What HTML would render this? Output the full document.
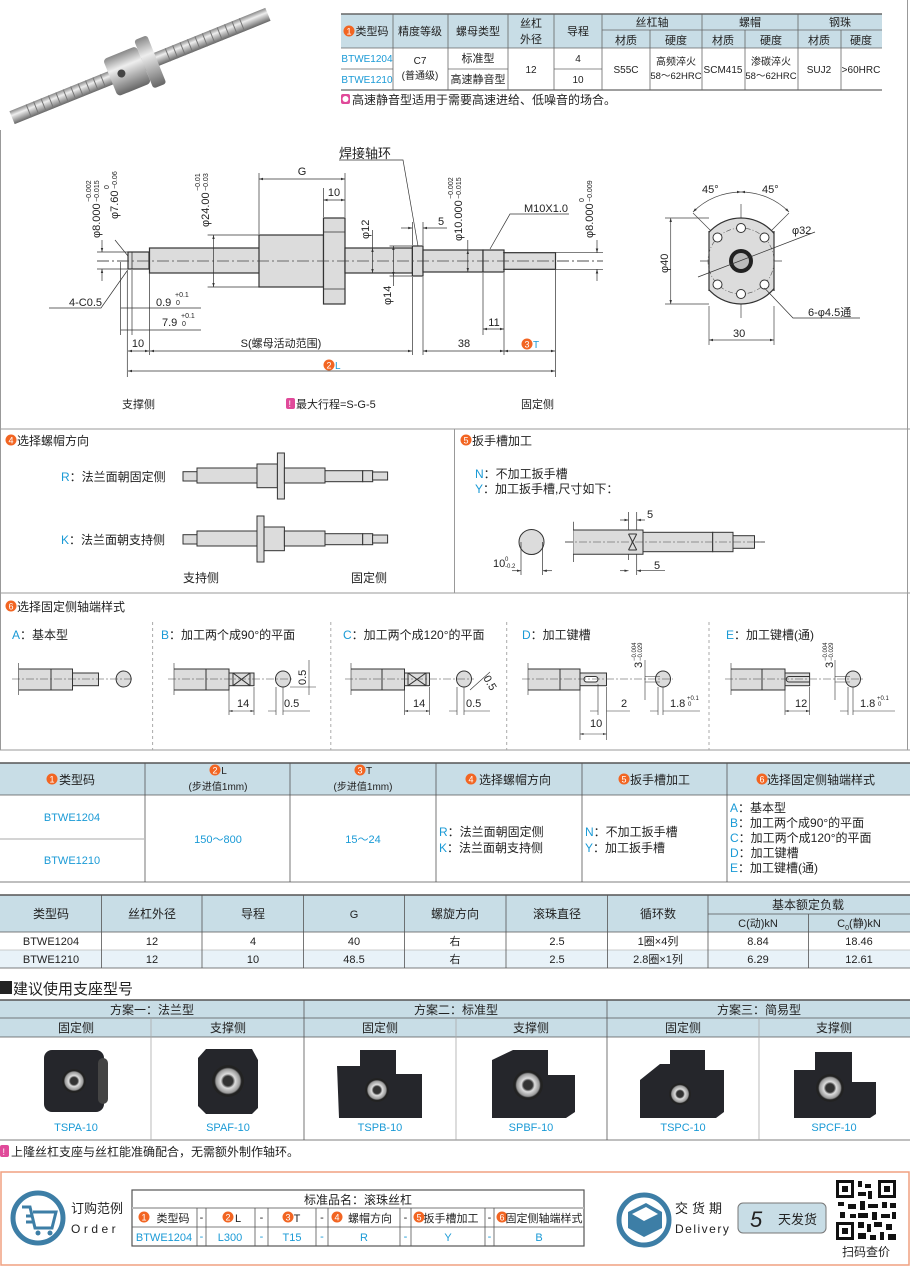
<!DOCTYPE html>
<html><head><meta charset="utf-8"><style>
html,body{margin:0;padding:0;background:#fff}
svg{display:block}
text{font-family:"Liberation Sans","Noto Sans CJK SC",sans-serif;fill:#222}
.b{fill:#1a9ad6}
.w{fill:#fff}
</style></head><body>
<svg width="910" height="1266" viewBox="0 0 910 1266" xmlns="http://www.w3.org/2000/svg">
<defs>
<marker id="a" viewBox="0 0 10 10" refX="10" refY="5" markerWidth="6" markerHeight="6" orient="auto-start-reverse"><path d="M0,2 L10,5 L0,8z" fill="#333"/></marker>
<linearGradient id="sh" x1="0" y1="0" x2="0" y2="1"><stop offset="0" stop-color="#888"/><stop offset=".35" stop-color="#eee"/><stop offset="1" stop-color="#666"/></linearGradient>
<radialGradient id="brg"><stop offset=".3" stop-color="#333"/><stop offset=".45" stop-color="#ddd"/><stop offset=".75" stop-color="#999"/><stop offset=".85" stop-color="#222"/></radialGradient>
</defs>

<!-- frame -->
<line x1="0.5" y1="130" x2="0.5" y2="750" stroke="#999"/>
<line x1="907.5" y1="0" x2="907.5" y2="750" stroke="#999"/>
<line x1="0" y1="429" x2="910" y2="429" stroke="#999"/>
<line x1="454.5" y1="429" x2="454.5" y2="593" stroke="#999"/>
<line x1="0" y1="593" x2="910" y2="593" stroke="#999"/>
<line x1="0" y1="750" x2="910" y2="750" stroke="#999"/>

<!-- photo -->
<g transform="translate(140,66) rotate(-22)">
<rect x="-138" y="-7" width="276" height="14" fill="url(#sh)"/>
<g stroke="#777" stroke-width="1">
<path d="M-120,-7 v14 M-112,-7 v14 M-104,-7 v14 M-96,-7 v14 M-88,-7 v14 M-80,-7 v14 M-72,-7 v14 M-64,-7 v14 M-56,-7 v14 M-48,-7 v14 M-40,-7 v14 M30,-7 v14 M38,-7 v14 M46,-7 v14 M54,-7 v14 M62,-7 v14 M70,-7 v14 M78,-7 v14 M86,-7 v14 M94,-7 v14 M102,-7 v14 M110,-7 v14"/>
</g>
<rect x="-32" y="-20" width="36" height="40" rx="4" fill="url(#sh)"/>
<rect x="4" y="-26" width="14" height="52" rx="3" fill="url(#sh)"/>
<circle cx="-20" cy="0" r="4" fill="#444"/>
</g>

<!-- top table -->
<rect x="341" y="14" width="541" height="34" fill="#c8dde6"/>
<g stroke="#666" stroke-width="0.8" fill="none">
<line x1="341" y1="14" x2="882" y2="14" stroke-width="1.5"/>
<line x1="341" y1="48" x2="882" y2="48"/>
<line x1="341" y1="90" x2="882" y2="90" stroke-width="1.2"/>
<line x1="602" y1="30" x2="882" y2="30"/>
<line x1="341" y1="69" x2="393" y2="69"/>
<line x1="448" y1="69" x2="508" y2="69"/>
<line x1="554" y1="69" x2="602" y2="69"/>
<path d="M393,14V90 M448,14V90 M508,14V90 M554,14V90 M602,14V90 M702,14V90 M798,14V90 M650,30V90 M745,30V90 M841,30V90"/>
</g>
<g font-size="11" text-anchor="middle">
<circle cx="349" cy="31" r="5.5" fill="#f26522"/><text x="349" y="34.5" font-size="9" class="w">1</text>
<text x="372" y="35">类型码</text><text x="420" y="35">精度等级</text><text x="478" y="35">螺母类型</text>
<text x="531" y="27">丝杠</text><text x="531" y="43">外径</text><text x="578" y="35">导程</text>
<text x="652" y="26">丝杠轴</text><text x="750" y="26">螺帽</text><text x="840" y="26">钢珠</text>
<text x="626" y="44">材质</text><text x="676" y="44">硬度</text><text x="723" y="44">材质</text><text x="771" y="44">硬度</text><text x="819" y="44">材质</text><text x="861" y="44">硬度</text>
<text x="367" y="62" font-size="10" class="b">BTWE1204</text><text x="367" y="83" font-size="10" class="b">BTWE1210</text>
<text x="420" y="64" font-size="10">C7</text><text x="420" y="79" font-size="10">(普通级)</text>
<text x="478" y="62">标准型</text><text x="478" y="83">高速静音型</text>
<text x="531" y="73" font-size="10">12</text><text x="578" y="62" font-size="10">4</text><text x="578" y="83" font-size="10">10</text>
<text x="626" y="73" font-size="10">S55C</text><text x="676" y="65" font-size="10">高频淬火</text><text x="676" y="79" font-size="9.5">58～62HRC</text>
<text x="723" y="73" font-size="10">SCM415</text><text x="771" y="65" font-size="10">渗碳淬火</text><text x="771" y="79" font-size="9.5">58～62HRC</text>
<text x="819" y="73" font-size="10">SUJ2</text><text x="861" y="73" font-size="10">&gt;60HRC</text>
</g>
<rect x="341" y="94" width="9" height="10" rx="2" fill="#e04a9a"/><circle cx="345.5" cy="99" r="3" fill="#fff"/>
<text x="352" y="104" font-size="12">高速静音型适用于需要高速进给、低噪音的场合。</text>

<!-- main drawing -->
<line x1="97" y1="261" x2="603" y2="261" stroke="#444" stroke-width="0.7" stroke-dasharray="12,3,2,3"/>
<g stroke="#333" stroke-width="1.2" fill="#dcdcdc">
<rect x="128" y="252" width="21" height="17"/>
<rect x="149.5" y="248" width="110" height="25"/>
<rect x="259" y="235" width="64.5" height="52"/>
<rect x="323.5" y="218" width="21.5" height="86"/>
<rect x="345" y="248" width="67.4" height="25"/>
<rect x="412.4" y="246" width="10.6" height="30"/>
<rect x="423" y="250" width="60" height="22"/>
<rect x="483" y="250" width="21" height="22"/>
<rect x="504" y="252.7" width="51.5" height="16.6"/>
</g>
<g stroke="#333" stroke-width="0.8" fill="none">
<line x1="323.5" y1="232" x2="345" y2="232"/><line x1="323.5" y1="289" x2="345" y2="289"/>
<line x1="132" y1="252" x2="132" y2="269"/>
</g>
<line x1="97" y1="261" x2="603" y2="261" stroke="#444" stroke-width="0.7" stroke-dasharray="12,3,2,3"/>
<g stroke="#333" stroke-width="0.7" fill="none">
<path d="M127.3,270 V377 M555.5,270 V377 M149.5,273 V355 M412.4,277 V355 M423,277 V355 M504,273 V355 M483,273 V335 M120.6,262 V335 M132,270 V335 M149.5,325 V335 M259,234 V173 M345,217 V173 M323.5,217 V188"/>
<path d="M97,252 H128 M97,269 H128 M207.6,235 H259 M207.6,287 H259 M389.5,246 H412 M389.5,276 H412 M503,252.7 H603 M503,269.3 H603 M412.4,245 V222 M423,245 V222"/>
<line x1="128" y1="371" x2="555" y2="371" marker-start="url(#a)" marker-end="url(#a)"/>
<line x1="128" y1="351" x2="149" y2="351" marker-start="url(#a)" marker-end="url(#a)"/>
<line x1="150" y1="351" x2="412" y2="351" marker-start="url(#a)" marker-end="url(#a)"/>
<line x1="423" y1="351" x2="504" y2="351" marker-start="url(#a)" marker-end="url(#a)"/>
<line x1="504" y1="351" x2="555" y2="351" marker-start="url(#a)" marker-end="url(#a)"/>
<line x1="483" y1="329" x2="504" y2="329" marker-start="url(#a)" marker-end="url(#a)"/>
<line x1="120.6" y1="308" x2="201" y2="308"/><line x1="120.6" y1="330" x2="201" y2="330"/>
<line x1="259" y1="179" x2="345" y2="179" marker-start="url(#a)" marker-end="url(#a)"/>
<line x1="323.5" y1="200" x2="345" y2="200" marker-start="url(#a)" marker-end="url(#a)"/>
<line x1="213.5" y1="235" x2="213.5" y2="287" marker-start="url(#a)" marker-end="url(#a)"/>
<line x1="372.5" y1="248" x2="372.5" y2="273" marker-start="url(#a)" marker-end="url(#a)"/>
<line x1="393.4" y1="246" x2="393.4" y2="276" marker-start="url(#a)" marker-end="url(#a)"/>
<line x1="467.8" y1="250" x2="467.8" y2="272" marker-start="url(#a)" marker-end="url(#a)"/>
<line x1="102" y1="240" x2="102" y2="252" marker-end="url(#a)"/><line x1="102" y1="281" x2="102" y2="269" marker-end="url(#a)"/>
<line x1="597" y1="240" x2="597" y2="252.7" marker-end="url(#a)"/><line x1="597" y1="281" x2="597" y2="269.3" marker-end="url(#a)"/>
<line x1="401" y1="228" x2="412.4" y2="228" marker-end="url(#a)"/><line x1="447" y1="228" x2="423" y2="228" marker-end="url(#a)"/>
<path d="M115,240 L128,256 M49,308 H101 L127,271 M339,160 H403 L418,246 M569,214 H510 L490,249 M372.5,230 V248 M393.4,276 V286 M467.8,240 V250"/>
</g>
<g font-size="11">
<text x="302" y="175" text-anchor="middle">G</text>
<text x="334" y="196" text-anchor="middle">10</text>
<text x="441" y="225" text-anchor="middle">5</text>
<text x="339" y="158" font-size="13">焊接轴环</text>
<text x="524" y="212">M10X1.0</text>
<text x="69" y="306">4-C0.5</text>
<text x="156" y="306">0.9</text><text x="175" y="297" font-size="7">+0.1</text><text x="176" y="305" font-size="7">0</text>
<text x="162" y="326">7.9</text><text x="181" y="318" font-size="7">+0.1</text><text x="182" y="326" font-size="7">0</text>
<text x="138" y="347" text-anchor="middle">10</text>
<text x="281" y="347" text-anchor="middle">S(螺母活动范围)</text>
<text x="464" y="347" text-anchor="middle">38</text>
<text x="494" y="326" text-anchor="middle">11</text>
<circle cx="527" cy="344" r="5.5" fill="#f26522"/><text x="527" y="347.5" font-size="9" class="w" text-anchor="middle">3</text><text x="533" y="348" class="b" font-size="10">T</text>
<circle cx="329" cy="365" r="5.5" fill="#f26522"/><text x="329" y="368.5" font-size="9" class="w" text-anchor="middle">2</text><text x="335" y="369" class="b" font-size="10">L</text>
<g transform="translate(100,238) rotate(-90)"><text>φ8.000</text><text x="36" y="-9" font-size="7">−0.002</text><text x="36" y="-1" font-size="7">−0.015</text></g>
<g transform="translate(118,219) rotate(-90)"><text>φ7.60</text><text x="30" y="-9" font-size="7">0</text><text x="30" y="-1" font-size="7">−0.06</text></g>
<g transform="translate(209,227) rotate(-90)"><text>φ24.00</text><text x="36" y="-9" font-size="7">−0.01</text><text x="36" y="-1" font-size="7">−0.03</text></g>
<g transform="translate(369,239) rotate(-90)"><text>φ12</text></g>
<g transform="translate(391,305) rotate(-90)"><text>φ14</text></g>
<g transform="translate(462,241) rotate(-90)"><text>φ10.000</text><text x="42" y="-9" font-size="7">−0.002</text><text x="42" y="-1" font-size="7">−0.015</text></g>
<g transform="translate(593,238) rotate(-90)"><text>φ8.000</text><text x="36" y="-9" font-size="7">0</text><text x="36" y="-1" font-size="7">−0.009</text></g>
<text x="122" y="408">支撑侧</text>
<rect x="286" y="398" width="9" height="11" rx="2" fill="#e04a9a"/><text x="288.5" y="407" font-size="9" class="w">!</text>
<text x="296" y="408">最大行程=S-G-5</text>
<text x="521" y="408">固定侧</text>
</g>

<!-- flange view -->
<g stroke="#444" stroke-width="0.7" fill="none">
<path d="M665,218 H709 M665,304 H709 M709,306 V345 M774,306 V345 M700,261 H782 M741,204 V318"/>
<line x1="670.7" y1="218" x2="670.7" y2="304" marker-start="url(#a)" marker-end="url(#a)"/>
<line x1="709" y1="340" x2="774" y2="340" marker-start="url(#a)" marker-end="url(#a)"/>
<path d="M693,213 L741,261 L789,213"/>
<path d="M693,212 A68,68 0 0 1 741,192" marker-start="url(#a)" marker-end="url(#a)"/>
<path d="M741,192 A68,68 0 0 1 789,212" marker-start="url(#a)" marker-end="url(#a)"/>
</g>
<clipPath id="fc"><rect x="709" y="210" width="65" height="100"/></clipPath>
<circle cx="741" cy="261" r="43" fill="#dcdcdc" stroke="#333" stroke-width="1.2" clip-path="url(#fc)"/>
<line x1="709" y1="231" x2="709" y2="291" stroke="#333" stroke-width="1.2"/><line x1="774" y1="231" x2="774" y2="291" stroke="#333" stroke-width="1.2"/>
<circle cx="741" cy="261" r="33" fill="none" stroke="#555" stroke-width="0.6" stroke-dasharray="5,2,1,2"/>
<g fill="#fff" stroke="#333" stroke-width="1">
<circle cx="741" cy="228" r="4.5"/><circle cx="741" cy="294" r="4.5"/>
<circle cx="717.5" cy="237.5" r="4.5"/><circle cx="764.5" cy="237.5" r="4.5"/>
<circle cx="717.5" cy="284.5" r="4.5"/><circle cx="764.5" cy="284.5" r="4.5"/>
</g>
<circle cx="741" cy="261" r="12" fill="#222"/><circle cx="741" cy="261" r="8" fill="#bbb"/>
<g stroke="#333" stroke-width="0.7" fill="none"><path d="M698,277 L815,232 M764.5,288 L793,318 H860"/></g>
<g font-size="11">
<text x="702" y="193">45°</text><text x="762" y="193">45°</text>
<text x="792" y="234">φ32</text>
<text x="808" y="316">6-φ4.5通</text>
<text x="733" y="337">30</text>
<g transform="translate(668,273) rotate(-90)"><text>φ40</text></g>
</g>

<!-- section 4 -->
<circle cx="11" cy="440" r="5.5" fill="#f26522"/><text x="11" y="443.5" font-size="9" class="w" text-anchor="middle">4</text>
<text x="17" y="445" font-size="12">选择螺帽方向</text>
<text x="61" y="481" font-size="12"><tspan class="b">R</tspan>：法兰面朝固定侧</text>
<text x="61" y="544" font-size="12"><tspan class="b">K</tspan>：法兰面朝支持侧</text>
<g stroke="#333" stroke-width="1" fill="#dcdcdc">
<rect x="183" y="471.7" width="14" height="9.3"/><rect x="197" y="468" width="60" height="15"/><rect x="257" y="464" width="20.4" height="23.7"/><rect x="277.4" y="453" width="7" height="46"/><rect x="284.4" y="468" width="40.6" height="15"/><rect x="325" y="470.7" width="37.7" height="11"/><rect x="362.7" y="470.7" width="10" height="11"/><rect x="372.6" y="472" width="15" height="8"/>
<rect x="183" y="534.7" width="14" height="9.3"/><rect x="197" y="531" width="60" height="15"/><rect x="257" y="516" width="7" height="46"/><rect x="264" y="527" width="20.4" height="23.7"/><rect x="284.4" y="531" width="40.6" height="15"/><rect x="325" y="533.7" width="37.7" height="11"/><rect x="362.7" y="533.7" width="10" height="11"/><rect x="372.6" y="535" width="15" height="8"/>
</g>
<text x="183" y="582" font-size="12">支持侧</text><text x="351" y="582" font-size="12">固定侧</text>

<!-- section 5 -->
<circle cx="466" cy="440" r="5.5" fill="#f26522"/><text x="466" y="443.5" font-size="9" class="w" text-anchor="middle">5</text>
<text x="472" y="445" font-size="12">扳手槽加工</text>
<text x="475" y="478" font-size="12"><tspan class="b">N</tspan>：不加工扳手槽</text>
<text x="475" y="493" font-size="12"><tspan class="b">Y</tspan>：加工扳手槽,尺寸如下：</text>
<circle cx="531.5" cy="542" r="12.5" fill="#dcdcdc" stroke="#333"/>
<g stroke="#333" stroke-width="0.7" fill="none">
<path d="M521,542 V575 M542.6,542 V575 M573.4,521.7 V562 M628.5,512 V560 M636.7,512 V575 M565,542 H765"/>
<line x1="512" y1="570.7" x2="521" y2="570.7" marker-end="url(#a)"/><line x1="552" y1="570.7" x2="542.6" y2="570.7" marker-end="url(#a)"/>
<line x1="620" y1="520" x2="628.5" y2="520" marker-end="url(#a)"/><line x1="645" y1="520" x2="636.7" y2="520" marker-end="url(#a)"/>
<line x1="620" y1="570.7" x2="628.5" y2="570.7" marker-end="url(#a)"/><line x1="665" y1="570.7" x2="636.7" y2="570.7" marker-end="url(#a)"/>
</g>
<g stroke="#333" stroke-width="1" fill="#dcdcdc">
<path d="M573.4,530 H643 V554.3 H573.4" /><rect x="643" y="532.3" width="69.7" height="19.4"/><rect x="712.7" y="532.3" width="20.3" height="19.4"/><rect x="733" y="535.7" width="21.5" height="12.6"/>
<path d="M628.5,534 L636.7,550 M636.7,534 L628.5,550 M628.5,534 H636.7 M628.5,550 H636.7" fill="none"/>
</g>
<line x1="565" y1="542" x2="765" y2="542" stroke="#444" stroke-width="0.6" stroke-dasharray="8,2,2,2"/>
<text x="493" y="567" font-size="11">10</text><text x="505" y="561" font-size="6">0</text><text x="505" y="568" font-size="6">-0.2</text>
<text x="647" y="518" font-size="11">5</text><text x="654" y="569" font-size="11">5</text>

<!-- section 6 -->
<circle cx="11" cy="606" r="5.5" fill="#f26522"/><text x="11" y="609.5" font-size="9" class="w" text-anchor="middle">6</text>
<text x="17" y="611" font-size="12">选择固定侧轴端样式</text>
<g stroke="#aaa" stroke-dasharray="3,3"><path d="M152.6,622 V750 M330.8,622 V750 M506.7,622 V750 M709,622 V750"/></g>
<g font-size="12">
<text x="12" y="639"><tspan class="b">A</tspan>：基本型</text>
<text x="161" y="639"><tspan class="b">B</tspan>：加工两个成90°的平面</text>
<text x="343" y="639"><tspan class="b">C</tspan>：加工两个成120°的平面</text>
<text x="522" y="639"><tspan class="b">D</tspan>：加工键槽</text>
<text x="726" y="639"><tspan class="b">E</tspan>：加工键槽(通)</text>
</g>
<g stroke="#333" stroke-width="1" fill="#dcdcdc">
<path d="M18.6,669 H51 V690 H18.6"/><rect x="51" y="669" width="21.5" height="21"/><rect x="72.5" y="673" width="26" height="12.7"/><ellipse cx="123.6" cy="679" rx="7.5" ry="8"/>
<path d="M174,669 H206 V690 H174"/><rect x="206" y="669" width="23" height="21"/><rect x="229" y="673" width="25" height="12.7"/><path d="M233,673 L250,685.7 M250,673 L233,685.7 M233,673 V685.7 M250,673 V685.7" fill="none"/><ellipse cx="283" cy="679" rx="7.5" ry="8"/>
<path d="M351,669 H382 V690 H351"/><rect x="382" y="669" width="22.5" height="21"/><rect x="404.5" y="673" width="25" height="12.7"/><path d="M408,673 L426,685.7 M426,673 L408,685.7 M408,673 V685.7 M426,673 V685.7" fill="none"/><ellipse cx="464" cy="679" rx="7.5" ry="8"/>
<path d="M528,669 H560 V690 H528"/><rect x="560" y="669" width="20" height="21"/><rect x="580" y="673" width="26.5" height="12.7"/><rect x="584" y="676.5" width="14" height="5.5" rx="2.7" fill="#fff"/><ellipse cx="663" cy="679" rx="7.5" ry="8"/>
<path d="M731,669 H762 V690 H731"/><rect x="762" y="669" width="23" height="21"/><rect x="785" y="673" width="24.6" height="12.7"/><path d="M789,676.5 H809.6 M789,682 H809.6 M789,676.5 A2.7,2.7 0 0 0 789,682" fill="none"/><ellipse cx="853" cy="679" rx="7.5" ry="8"/>
</g>
<g stroke="#444" stroke-width="0.6" stroke-dasharray="8,2,2,2"><path d="M12,679 H132 M168,679 H293 M345,679 H474 M522,679 H673 M725,679 H863"/></g>
<g stroke="#333" stroke-width="0.6" fill="none">
<path d="M18.6,663 V695 M174,663 V695 M351,663 V695 M528,663 V695 M731,663 V695"/>
<path d="M229,687 V715 M254,687 V715 M276,687 V715 M283,687 V715 M404.5,687 V715 M429.5,687 V715 M457,687 V715 M464,687 V715 M606.5,687 V740 M580,687 V740 M598,684 V715 M658,687 V715 M663,687 V715 M785,687 V715 M809.6,687 V715 M848,687 V715 M853,687 V715"/>
<line x1="229" y1="711" x2="254" y2="711" marker-start="url(#a)" marker-end="url(#a)"/>
<line x1="404.5" y1="711" x2="429.5" y2="711" marker-start="url(#a)" marker-end="url(#a)"/>
<line x1="785" y1="711" x2="809.6" y2="711" marker-start="url(#a)" marker-end="url(#a)"/>
<line x1="580" y1="734" x2="606.5" y2="734" marker-start="url(#a)" marker-end="url(#a)"/>
<path d="M268,711 H276 M283,711 H310 M449,711 H457 M464,711 H490 M590,711 H598 M606.5,711 H630 M650,711 H658 M663,711 H700 M840,711 H848 M853,711 H895"/>
<path d="M290,687 H316 M309,660 V695 M470,690 L490,672"/>
<path d="M645,676.5 H660 M645,682 H660 M645,660 V700 M835,676.5 H850 M835,682 H850 M835,660 V700"/>
</g>
<g font-size="11">
<text x="237" y="707">14</text><text x="284" y="707">0.5</text><g transform="translate(306,685) rotate(-90)"><text>0.5</text></g>
<text x="413" y="707">14</text><text x="466" y="707">0.5</text><g transform="translate(483,678) rotate(60)"><text>0.5</text></g>
<text x="621" y="707">2</text><text x="670" y="707">1.8</text><text x="687" y="700" font-size="6">+0.1</text><text x="688" y="706" font-size="6">0</text>
<text x="590" y="727">10</text>
<text x="795" y="707">12</text><text x="860" y="707">1.8</text><text x="877" y="700" font-size="6">+0.1</text><text x="878" y="706" font-size="6">0</text>
<g transform="translate(642,668) rotate(-90)"><text>3</text><text x="7" y="-6" font-size="6">−0.004</text><text x="7" y="0" font-size="6">−0.029</text></g>
<g transform="translate(833,668) rotate(-90)"><text>3</text><text x="7" y="-6" font-size="6">−0.004</text><text x="7" y="0" font-size="6">−0.029</text></g>
</g>

<!-- table 1 -->
<rect x="0" y="763" width="910" height="32" fill="#c8dde6"/>
<g stroke="#555" stroke-width="0.8" fill="none">
<path d="M0,763 H910" stroke-width="1.5"/><path d="M0,795 H910 M0,882 H910"/>
<path d="M145,763 V882 M290,763 V882 M436,763 V882 M582,763 V882 M727,763 V882"/>
<path d="M0,839 H145" stroke="#bbb" stroke-width="1.2"/>
</g>
<g font-size="12" text-anchor="middle">
<circle cx="52" cy="779" r="5.5" fill="#f26522"/><text x="52" y="782.5" font-size="9" class="w">1</text><text x="77" y="784">类型码</text>
<circle cx="215" cy="770" r="5.5" fill="#f26522"/><text x="215" y="773.5" font-size="9" class="w">2</text><text x="224" y="774" font-size="10">L</text><text x="218" y="790" font-size="10">(步进值1mm)</text>
<circle cx="360" cy="770" r="5.5" fill="#f26522"/><text x="360" y="773.5" font-size="9" class="w">3</text><text x="369" y="774" font-size="10">T</text><text x="363" y="790" font-size="10">(步进值1mm)</text>
<circle cx="471" cy="779" r="5.5" fill="#f26522"/><text x="471" y="782.5" font-size="9" class="w">4</text><text x="515" y="784">选择螺帽方向</text>
<circle cx="624" cy="779" r="5.5" fill="#f26522"/><text x="624" y="782.5" font-size="9" class="w">5</text><text x="660" y="784">扳手槽加工</text>
<circle cx="762" cy="779" r="5.5" fill="#f26522"/><text x="762" y="782.5" font-size="9" class="w">6</text><text x="821" y="784">选择固定侧轴端样式</text>
<text x="72" y="821" class="b" font-size="11">BTWE1204</text><text x="72" y="864" class="b" font-size="11">BTWE1210</text>
<text x="218" y="843" class="b" font-size="11">150～800</text><text x="363" y="843" class="b" font-size="11">15～24</text>
</g>
<g font-size="12">
<text x="439" y="836"><tspan class="b">R</tspan>：法兰面朝固定侧</text><text x="439" y="852"><tspan class="b">K</tspan>：法兰面朝支持侧</text>
<text x="585" y="836"><tspan class="b">N</tspan>：不加工扳手槽</text><text x="585" y="852"><tspan class="b">Y</tspan>：加工扳手槽</text>
<text x="730" y="812"><tspan class="b">A</tspan>：基本型</text>
<text x="730" y="827"><tspan class="b">B</tspan>：加工两个成90°的平面</text>
<text x="730" y="842"><tspan class="b">C</tspan>：加工两个成120°的平面</text>
<text x="730" y="857"><tspan class="b">D</tspan>：加工键槽</text>
<text x="730" y="872"><tspan class="b">E</tspan>：加工键槽(通)</text>
</g>

<!-- table 2 -->
<rect x="0" y="895" width="910" height="37" fill="#c8dde6"/>
<rect x="0" y="950" width="910" height="18" fill="#e8f2f8"/>
<g stroke="#555" stroke-width="0.8" fill="none">
<path d="M0,895 H910" stroke-width="1.5"/><path d="M0,932 H910 M0,968 H910 M708,914 H910"/>
<path d="M0,950 H910" stroke="#bbb"/>
<path d="M101.6,895 V968 M202,895 V968 M303.5,895 V968 M404.5,895 V968 M506,895 V968 M607.6,895 V968 M708,895 V968 M808.5,914 V968"/>
</g>
<g font-size="12" text-anchor="middle">
<text x="51" y="918">类型码</text><text x="152" y="918">丝杠外径</text><text x="253" y="918">导程</text><text x="354" y="918" font-size="11">G</text><text x="455" y="918">螺旋方向</text><text x="557" y="918">滚珠直径</text><text x="658" y="918">循环数</text><text x="808" y="909">基本额定负载</text>
<text x="758" y="927" font-size="11">C(动)kN</text><text x="859" y="927" font-size="11">C<tspan font-size="7" dy="3">0</tspan><tspan dy="-3">(静)kN</tspan></text>
</g>
<g font-size="11" text-anchor="middle">
<text x="51" y="945">BTWE1204</text><text x="152" y="945">12</text><text x="253" y="945">4</text><text x="354" y="945">40</text><text x="455" y="945">右</text><text x="557" y="945">2.5</text><text x="658" y="945">1圈×4列</text><text x="758" y="945">8.84</text><text x="859" y="945">18.46</text>
<text x="51" y="963">BTWE1210</text><text x="152" y="963">12</text><text x="253" y="963">10</text><text x="354" y="963">48.5</text><text x="455" y="963">右</text><text x="557" y="963">2.5</text><text x="658" y="963">2.8圈×1列</text><text x="758" y="963">6.29</text><text x="859" y="963">12.61</text>
</g>

<!-- support table -->
<rect x="0" y="981" width="12" height="13" fill="#222"/>
<text x="13" y="994" font-size="15">建议使用支座型号</text>
<rect x="0" y="1000" width="910" height="37" fill="#c8dde6"/>
<g stroke="#555" stroke-width="0.8" fill="none">
<path d="M0,1000 H910" stroke-width="1.5"/><path d="M0,1018 H910 M0,1037 H910 M0,1140 H910"/>
<path d="M304,1000 V1140 M607,1000 V1140"/>
<path d="M151,1018 V1140 M456,1018 V1140 M759,1018 V1140" stroke="#aaa"/>
</g>
<g font-size="12" text-anchor="middle">
<text x="152" y="1014">方案一：法兰型</text><text x="456" y="1014">方案二：标准型</text><text x="759" y="1014">方案三：简易型</text>
<text x="76" y="1032">固定侧</text><text x="228" y="1032">支撑侧</text><text x="380" y="1032">固定侧</text><text x="531" y="1032">支撑侧</text><text x="683" y="1032">固定侧</text><text x="834" y="1032">支撑侧</text>
</g>
<g fill="#25262b">
<rect x="44" y="1050" width="60" height="62" rx="8"/><rect x="98" y="1058" width="10" height="46" rx="5" fill="#444"/>
<path d="M206,1049 L252,1049 L258,1060 L258,1108 L252,1114 L206,1114 L198,1106 L198,1058z"/>
<path d="M337,1066 H360 V1050 H396 V1074 H422 V1118 H339z"/>
<path d="M492,1060 L513,1050 H548 V1075 H575 V1112 L566,1118 H492z"/>
<path d="M640,1080 L660,1064 H670 V1050 H705 V1070 H724 V1112 L716,1118 H640z"/>
<path d="M794,1070 H815 V1052 H852 V1082 H876 V1114 L870,1118 H794z"/>
</g>
<g>
<circle cx="74" cy="1081" r="12" fill="url(#brg)"/><circle cx="228" cy="1081" r="16" fill="url(#brg)"/><circle cx="377" cy="1090" r="12" fill="url(#brg)"/><circle cx="528" cy="1085" r="15" fill="url(#brg)"/><circle cx="680" cy="1094" r="11" fill="url(#brg)"/><circle cx="830" cy="1088" r="14" fill="url(#brg)"/>
</g>
<g font-size="11" text-anchor="middle" class="b"><text x="76" y="1131" class="b">TSPA-10</text><text x="228" y="1131" class="b">SPAF-10</text><text x="380" y="1131" class="b">TSPB-10</text><text x="531" y="1131" class="b">SPBF-10</text><text x="683" y="1131" class="b">TSPC-10</text><text x="834" y="1131" class="b">SPCF-10</text></g>
<rect x="0" y="1145" width="9" height="12" rx="2" fill="#e04a9a"/><text x="2.5" y="1155" font-size="9" class="w">!</text>
<text x="11" y="1156" font-size="12">上隆丝杠支座与丝杠能准确配合，无需额外制作轴环。</text>

<!-- order box -->
<rect x="1" y="1172" width="908" height="93" fill="none" stroke="#f0a080" stroke-width="1.5"/>
<circle cx="38" cy="1218" r="25" fill="none" stroke="#3d7ea6" stroke-width="5"/>
<g stroke="#3d7ea6" stroke-width="3" fill="none"><path d="M22,1207 H30 L35,1228 H52 L56,1212 H33 M26,1216 H33 M26,1222 H34"/></g>
<circle cx="38" cy="1233" r="2.5" fill="#3d7ea6"/><circle cx="50" cy="1233" r="2.5" fill="#3d7ea6"/>
<text x="71" y="1213" font-size="13" fill="#555">订购范例</text>
<text x="71" y="1233" font-size="12" letter-spacing="3.5" fill="#555">Order</text>
<g stroke="#555" stroke-width="0.8" fill="none">
<rect x="132" y="1190" width="452" height="56" stroke-width="1.2"/>
<path d="M132,1208 H584" stroke="#bbb" stroke-width="2"/><path d="M132,1227 H584"/>
<path d="M197,1208 V1246 M206,1208 V1246 M255,1208 V1246 M268,1208 V1246 M316,1208 V1246 M328,1208 V1246 M400,1208 V1246 M411,1208 V1246 M485,1208 V1246 M494,1208 V1246"/>
</g>
<g font-size="11" text-anchor="middle">
<text x="358" y="1204" font-size="12">标准品名：滚珠丝杠</text>
<circle cx="144" cy="1217" r="5.5" fill="#f26522"/><text x="144" y="1220.5" font-size="9" class="w">1</text><text x="173" y="1222">类型码</text>
<circle cx="228" cy="1217" r="5.5" fill="#f26522"/><text x="228" y="1220.5" font-size="9" class="w">2</text><text x="238" y="1222">L</text>
<circle cx="288" cy="1217" r="5.5" fill="#f26522"/><text x="288" y="1220.5" font-size="9" class="w">3</text><text x="297" y="1222">T</text>
<circle cx="337" cy="1217" r="5.5" fill="#f26522"/><text x="337" y="1220.5" font-size="9" class="w">4</text><text x="370" y="1222">螺帽方向</text>
<circle cx="419" cy="1217" r="5.5" fill="#f26522"/><text x="419" y="1220.5" font-size="9" class="w">5</text><text x="451" y="1222">扳手槽加工</text>
<circle cx="502" cy="1217" r="5.5" fill="#f26522"/><text x="502" y="1220.5" font-size="9" class="w">6</text><text x="544" y="1222">固定侧轴端样式</text>
<text x="201.5" y="1221">-</text><text x="261.5" y="1221">-</text><text x="322" y="1221">-</text><text x="405.5" y="1221">-</text><text x="489.5" y="1221">-</text>
<g class="b"><text x="164" y="1241" class="b">BTWE1204</text><text x="201.5" y="1240" class="b">-</text><text x="230" y="1241" class="b">L300</text><text x="261.5" y="1240" class="b">-</text><text x="292" y="1241" class="b">T15</text><text x="322" y="1240" class="b">-</text><text x="364" y="1241" class="b">R</text><text x="405.5" y="1240" class="b">-</text><text x="448" y="1241" class="b">Y</text><text x="489.5" y="1240" class="b">-</text><text x="539" y="1241" class="b">B</text></g>
</g>
<circle cx="644" cy="1220" r="25" fill="none" stroke="#3d7ea6" stroke-width="5"/>
<path d="M628,1212 L646,1203 L662,1212 L662,1228 L644,1237 L628,1228z" fill="#3d7ea6"/>
<path d="M632,1214 L646,1207 L658,1214 L644,1221z" fill="#fff"/>
<text x="675" y="1213" font-size="13" letter-spacing="4" fill="#555">交货期</text>
<text x="675" y="1233" font-size="12" letter-spacing="1.5" fill="#555">Delivery</text>
<rect x="738" y="1203" width="88" height="30" rx="5" fill="#c8dde6" stroke="#777"/>
<text x="750" y="1227" font-size="22" font-style="italic">5</text><text x="778" y="1224" font-size="13">天发货</text>
<rect x="836" y="1180" width="60" height="60" fill="#fff"/>
<g fill="#111">
<rect x="836" y="1180" width="18" height="18"/><rect x="839" y="1183" width="12" height="12" fill="#fff"/><rect x="842" y="1186" width="6" height="6"/>
<rect x="878" y="1180" width="18" height="18"/><rect x="881" y="1183" width="12" height="12" fill="#fff"/><rect x="884" y="1186" width="6" height="6"/>
<rect x="836" y="1222" width="18" height="18"/><rect x="839" y="1225" width="12" height="12" fill="#fff"/><rect x="842" y="1228" width="6" height="6"/>
<rect x="858" y="1181" width="4" height="6"/><rect x="865" y="1184" width="6" height="4"/><rect x="858" y="1192" width="8" height="4"/><rect x="868" y="1191" width="4" height="8"/>
<rect x="838" y="1202" width="6" height="4"/><rect x="848" y="1204" width="8" height="5"/><rect x="860" y="1201" width="5" height="9"/><rect x="868" y="1204" width="10" height="4"/><rect x="882" y="1202" width="5" height="6"/><rect x="890" y="1203" width="6" height="5"/>
<rect x="840" y="1212" width="5" height="6"/><rect x="850" y="1214" width="6" height="4"/><rect x="858" y="1213" width="10" height="5"/><rect x="872" y="1212" width="5" height="8"/><rect x="881" y="1214" width="9" height="4"/><rect x="892" y="1212" width="4" height="7"/>
<rect x="858" y="1222" width="6" height="6"/><rect x="867" y="1224" width="4" height="8"/><rect x="874" y="1222" width="8" height="5"/><rect x="886" y="1224" width="6" height="6"/>
<rect x="858" y="1233" width="8" height="6"/><rect x="870" y="1235" width="6" height="5"/><rect x="880" y="1232" width="4" height="8"/><rect x="888" y="1234" width="8" height="6"/>
</g>
<text x="842" y="1256" font-size="12">扫码查价</text>
</svg>
</body></html>
